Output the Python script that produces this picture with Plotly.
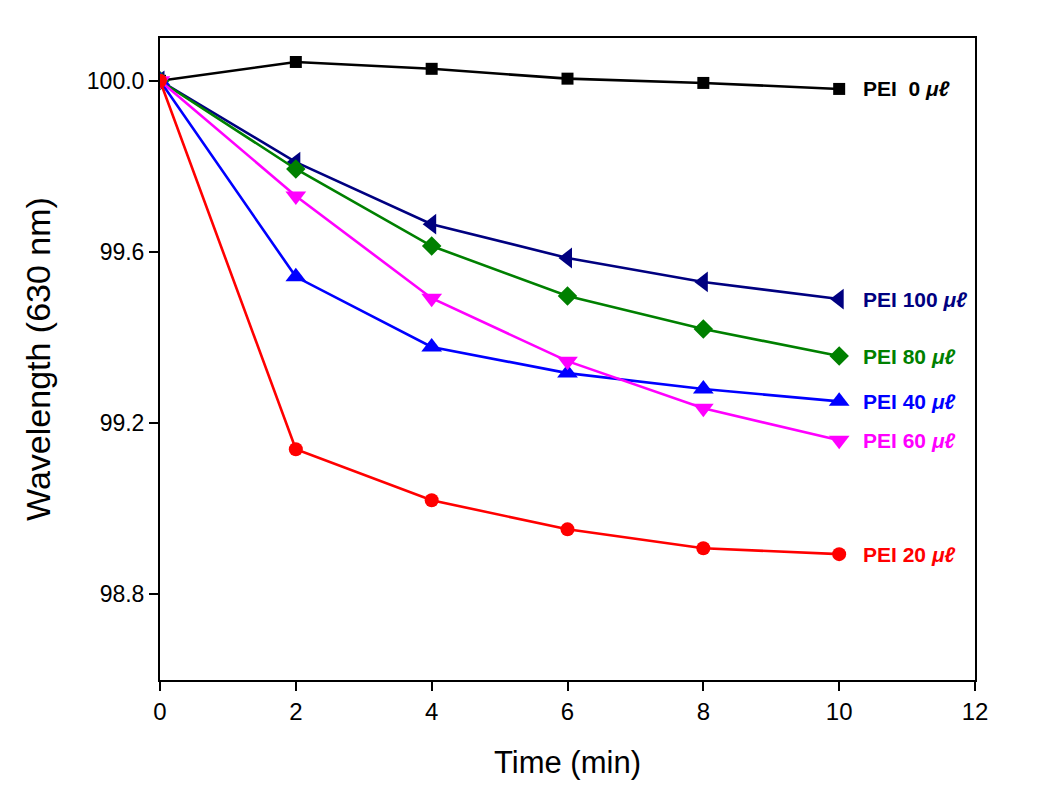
import plotly.graph_objects as go

time_min = [0, 2, 4, 6, 8, 10]

series_names = ["PEI 0", "PEI 100", "PEI 80", "PEI 40", "PEI 60", "PEI 20"]
pei_0 = [100.0, 100.044, 100.028, 100.005, 99.995, 99.981]
pei_100 = [100.0, 99.81, 99.665, 99.586, 99.53, 99.49]
pei_80 = [100.0, 99.794, 99.614, 99.497, 99.42, 99.357]
pei_40 = [100.0, 99.542, 99.378, 99.317, 99.28, 99.251]
pei_60 = [100.0, 99.731, 99.492, 99.345, 99.235, 99.16]
pei_20 = [100.0, 99.139, 99.02, 98.952, 98.908, 98.894]

label_texts = ["PEI&nbsp;&nbsp;0", "PEI 100", "PEI 80", "PEI 40", "PEI 60", "PEI 20"]
values = [pei_0, pei_100, pei_80, pei_40, pei_60, pei_20]
colors = ["#000000", "#000080", "#008000", "#0000FF", "#FF00FF", "#FF0000"]
symbols = ["square", "triangle-left", "diamond", "triangle-up", "triangle-down", "circle"]
marker_sizes = [12, 18, 15, 18, 18, 14]

y_ticks = [98.8, 99.2, 99.6, 100.0]
x_ticks = [0, 2, 4, 6, 8, 10, 12]

fig = go.Figure()
for name, vals, col, sym, ms in zip(series_names, values, colors, symbols, marker_sizes):
    fig.add_trace(go.Scatter(
        x=time_min, y=vals, mode="lines+markers", name=name,
        line=dict(color=col, width=2.6),
        marker=dict(symbol=sym, size=ms, color=col),
        showlegend=False,
    ))

for lab, vals, col in zip(label_texts, values, colors):
    fig.add_annotation(
        x=time_min[-1], y=vals[-1], xref="x", yref="y",
        text="<b>" + lab + " <i>\u03bc\u2113</i></b>",
        showarrow=False, xanchor="left", yanchor="middle", xshift=22,
        font=dict(family="Liberation Sans, Arial", size=21, color=col),
    )

fig.update_layout(
    width=1039, height=802,
    margin=dict(l=152, r=72, t=30, b=130),
    paper_bgcolor="white", plot_bgcolor="white",
    font=dict(family="Liberation Sans, Arial", color="black"),
    xaxis=dict(
        range=[0, 12], tickvals=x_ticks, ticktext=[str(v) for v in x_ticks],
        ticks="outside", ticklen=9, tickwidth=2, tickcolor="black",
        showline=True, linewidth=2, linecolor="black", mirror=True,
        showgrid=False, zeroline=False,
        tickfont=dict(family="Liberation Sans, Arial", size=24),
        title=dict(text="Time (min)", font=dict(family="Liberation Sans, Arial", size=31), standoff=28),
    ),
    yaxis=dict(
        range=[98.6, 100.1], tickvals=y_ticks, ticktext=["%.1f" % v for v in y_ticks],
        ticks="outside", ticklen=9, tickwidth=2, tickcolor="black",
        showline=True, linewidth=2, linecolor="black", mirror=True,
        showgrid=False, zeroline=False,
        tickfont=dict(family="Liberation Sans, Arial", size=23),
        title=dict(text="Wavelength (630 nm)", font=dict(family="Liberation Sans, Arial", size=34), standoff=26),
    ),
)

fig.write_html("out.html")
